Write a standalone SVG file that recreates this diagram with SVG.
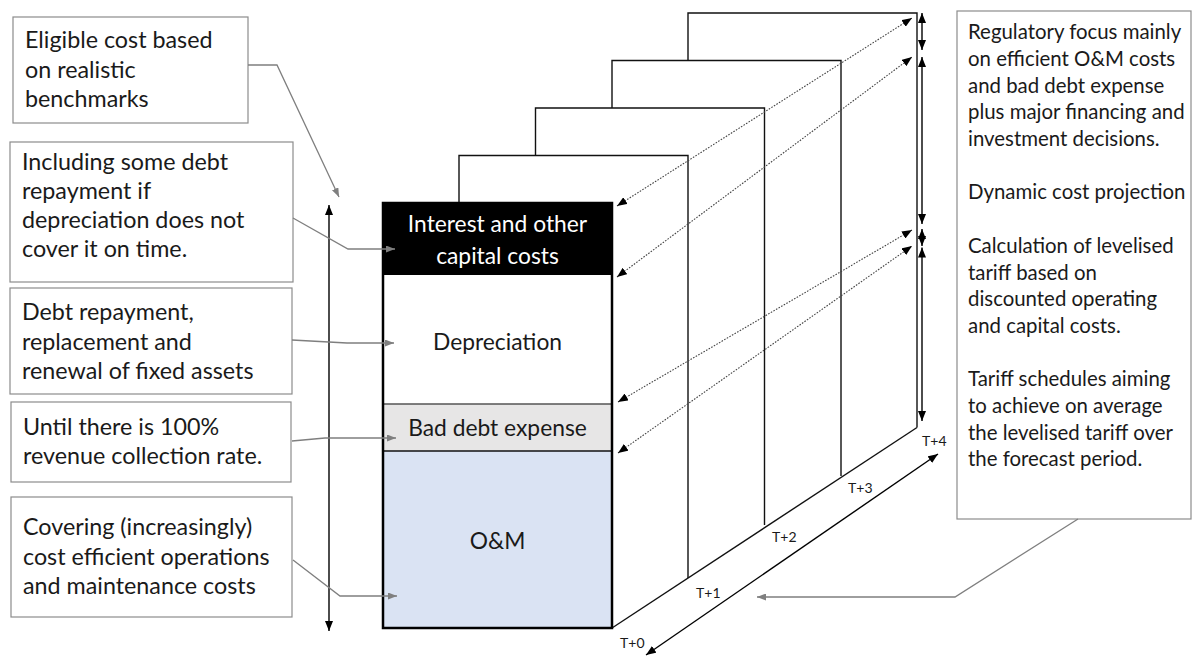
<svg xmlns="http://www.w3.org/2000/svg" width="1193" height="657" viewBox="0 0 1193 657">
  <style>
    .note { fill: #ffffff; stroke: #8c8c8c; stroke-width: 1.2; }
    .txt { font-family: Lato, "Open Sans", "Liberation Sans", sans-serif; fill: #1a1a1a; }
    .lt { font-size: 23.3px; }
    .rt { font-size: 20.4px; }
    .ct { font-size: 22.8px; text-anchor: middle; }
    .tl { font-size: 14px; }
    .frame { fill: none; stroke: #111; stroke-width: 1.4; }
    .blk { fill: none; stroke: #000; stroke-width: 1.4; }
    .gry { fill: none; stroke: #7f7f7f; stroke-width: 1.3; }
    .dot { fill: none; stroke: #444; stroke-width: 1.1; stroke-dasharray: 1.6 1.4; }
  </style>
  <defs>
    <marker id="ah" viewBox="0 0 10 8" refX="10" refY="4" markerWidth="10" markerHeight="8" markerUnits="userSpaceOnUse" orient="auto-start-reverse">
      <path d="M0,0 L10,4 L0,8 z" fill="#000"/>
    </marker>
    <marker id="ag" viewBox="0 0 9 7" refX="9" refY="3.5" markerWidth="9" markerHeight="7" markerUnits="userSpaceOnUse" orient="auto-start-reverse">
      <path d="M0,0 L9,3.5 L0,7 z" fill="#7f7f7f"/>
    </marker>
  </defs>

  <rect width="1193" height="657" fill="#ffffff"/>

  <!-- stacked year frames behind the cost column -->
  <g id="frames">
    <polyline class="frame" points="459,203 459,155.5 688,155.5 688,578"/>
    <polyline class="frame" points="535.5,155.5 535.5,108 764.5,108 764.5,525"/>
    <polyline class="frame" points="612,108 612,60.5 841,60.5 841,476"/>
    <polyline class="frame" points="688,60.5 688,13 917,13 917,427.5"/>
    <line class="frame" x1="612" y1="628" x2="917" y2="427.5"/>
  </g>

  <!-- cost column for year T+0 -->
  <g id="col-interest">
    <rect x="383" y="203" width="229" height="72" fill="#000"/>
    <text class="txt ct" x="497.5" y="232" style="fill:#fff">Interest and other</text>
    <text class="txt ct" x="497.5" y="264" style="fill:#fff">capital costs</text>
  </g>
  <g id="col-depreciation">
    <rect x="383" y="275" width="229" height="129" fill="#fff"/>
    <text class="txt ct" x="497.5" y="350">Depreciation</text>
  </g>
  <g id="col-baddebt">
    <rect x="383" y="404" width="229" height="47" fill="#e7e6e6"/>
    <line x1="383" y1="404" x2="612" y2="404" stroke="#555" stroke-width="1.5"/>
    <text class="txt ct" x="497.5" y="436">Bad debt expense</text>
  </g>
  <g id="col-om">
    <rect x="383" y="451" width="229" height="177" fill="#dae3f3"/>
    <line x1="383" y1="451" x2="612" y2="451" stroke="#111" stroke-width="1.5"/>
    <text class="txt ct" x="497.5" y="549">O&amp;M</text>
  </g>
  <rect x="383" y="203" width="229" height="425" fill="none" stroke="#000" stroke-width="2.5"/>

  <!-- time axis labels -->
  <g id="time-labels">
    <text class="txt tl" x="620" y="648">T+0</text>
    <text class="txt tl" x="696" y="598">T+1</text>
    <text class="txt tl" x="772" y="542">T+2</text>
    <text class="txt tl" x="848" y="493">T+3</text>
    <text class="txt tl" x="922" y="446">T+4</text>
  </g>

  <!-- explanatory notes, left -->
  <g id="note-eligible">
    <rect class="note" x="13" y="17" width="235" height="106"/>
    <text class="txt lt" x="25" y="48">Eligible cost based</text>
    <text class="txt lt" x="25" y="77.5">on realistic</text>
    <text class="txt lt" x="25" y="107">benchmarks</text>
  </g>
  <g id="note-interest">
    <rect class="note" x="10" y="142" width="283" height="140"/>
    <text class="txt lt" x="22" y="170">Including some debt</text>
    <text class="txt lt" x="22" y="199">repayment if</text>
    <text class="txt lt" x="22" y="228">depreciation does not</text>
    <text class="txt lt" x="22" y="257">cover it on time.</text>
  </g>
  <g id="note-depreciation">
    <rect class="note" x="10" y="288" width="282" height="106"/>
    <text class="txt lt" x="22" y="320">Debt repayment,</text>
    <text class="txt lt" x="22" y="349.5">replacement and</text>
    <text class="txt lt" x="22" y="379">renewal of fixed assets</text>
  </g>
  <g id="note-baddebt">
    <rect class="note" x="11" y="402" width="280" height="80"/>
    <text class="txt lt" x="23" y="435">Until there is 100%</text>
    <text class="txt lt" x="23" y="464">revenue collection rate.</text>
  </g>
  <g id="note-om">
    <rect class="note" x="11" y="497" width="281" height="120"/>
    <text class="txt lt" x="23" y="535">Covering (increasingly)</text>
    <text class="txt lt" x="23" y="565">cost efficient operations</text>
    <text class="txt lt" x="23" y="594">and maintenance costs</text>
  </g>

  <!-- explanatory note, right -->
  <g id="note-regulatory">
    <rect class="note" x="957" y="11" width="234" height="508"/>
    <text class="txt rt" x="968" y="39">Regulatory focus mainly</text>
    <text class="txt rt" x="968" y="66">on efficient O&amp;M costs</text>
    <text class="txt rt" x="968" y="92.5">and bad debt expense</text>
    <text class="txt rt" x="968" y="119">plus major financing and</text>
    <text class="txt rt" x="968" y="146">investment decisions.</text>
    <text class="txt rt" x="968" y="199">Dynamic cost projection</text>
    <text class="txt rt" x="968" y="253">Calculation of levelised</text>
    <text class="txt rt" x="968" y="279.5">tariff based on</text>
    <text class="txt rt" x="968" y="306">discounted operating</text>
    <text class="txt rt" x="968" y="333">and capital costs.</text>
    <text class="txt rt" x="968" y="386">Tariff schedules aiming</text>
    <text class="txt rt" x="968" y="413">to achieve on average</text>
    <text class="txt rt" x="968" y="439.5">the levelised tariff over</text>
    <text class="txt rt" x="968" y="466">the forecast period.</text>
  </g>

  <!-- connectors -->
  <g id="connectors">
    <!-- total height span of the column -->
    <line class="blk" x1="329" y1="205" x2="329" y2="631" marker-start="url(#ah)" marker-end="url(#ah)"/>
    <!-- time axis -->
    <line class="blk" x1="646" y1="655" x2="938" y2="454" marker-start="url(#ah)" marker-end="url(#ah)"/>
    <!-- cost block heights at T+4 -->
    <line class="blk" x1="922" y1="13" x2="922" y2="50" marker-start="url(#ah)" marker-end="url(#ah)"/>
    <line class="blk" x1="922" y1="57" x2="922" y2="224" marker-start="url(#ah)" marker-end="url(#ah)"/>
    <line class="blk" x1="922" y1="229" x2="922" y2="246" marker-start="url(#ah)" marker-end="url(#ah)"/>
    <line class="blk" x1="922" y1="247.5" x2="922" y2="421" marker-start="url(#ah)" marker-end="url(#ah)"/>
    <!-- projection of block boundaries from T+0 to T+4 -->
    <line class="dot" x1="617" y1="206" x2="912" y2="18" marker-start="url(#ah)" marker-end="url(#ah)"/>
    <line class="dot" x1="617" y1="277" x2="912" y2="57" marker-start="url(#ah)" marker-end="url(#ah)"/>
    <line class="dot" x1="618" y1="402" x2="912" y2="230" marker-start="url(#ah)" marker-end="url(#ah)"/>
    <line class="dot" x1="618" y1="453" x2="912" y2="246" marker-start="url(#ah)" marker-end="url(#ah)"/>
    <!-- note callouts -->
    <polyline class="gry" points="248,65 277,65 339,197" marker-end="url(#ag)"/>
    <polyline class="gry" points="293,218 348,249 395,249" marker-end="url(#ag)"/>
    <polyline class="gry" points="292,340 347,343 394,343" marker-end="url(#ag)"/>
    <polyline class="gry" points="292,441 325,438 396,438" marker-end="url(#ag)"/>
    <polyline class="gry" points="293,560 340,596 397,596" marker-end="url(#ag)"/>
    <polyline class="gry" points="1078,519 955,597 757,597" marker-end="url(#ag)"/>
  </g>
</svg>
